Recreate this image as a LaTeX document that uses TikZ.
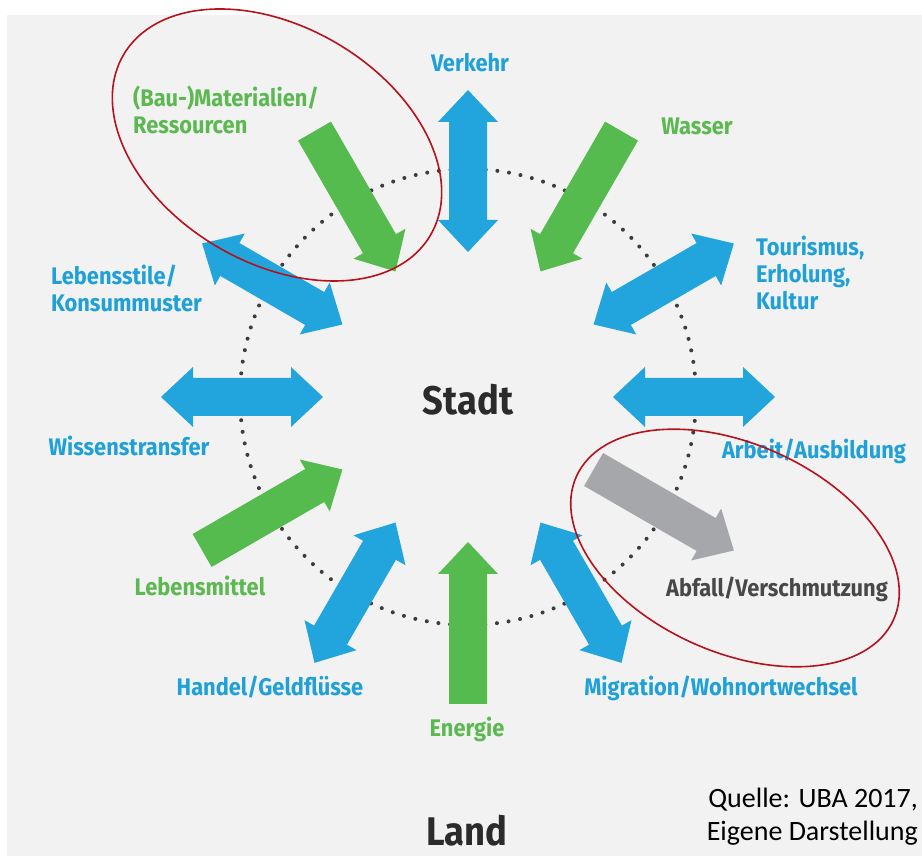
\documentclass[tikz,border=0pt]{standalone}
\usepackage{fontspec}
\setmainfont[FakeStretch=0.91]{Fira Sans}
\newfontfamily\srcfont{Carlito}
\definecolor{ublue}{HTML}{22A4DC}
\definecolor{tblue}{HTML}{1FA0D8}
\definecolor{ugreen}{HTML}{55BB4E}
\definecolor{tgreen}{HTML}{5CB850}
\definecolor{ugray}{HTML}{A6A7AA}
\definecolor{ured}{HTML}{B5121B}
\definecolor{bgc}{HTML}{F2F2F2}
\definecolor{dotc}{HTML}{3C3C3C}
\definecolor{darkt}{HTML}{2B2B2B}
\definecolor{abft}{HTML}{484848}
\begin{document}
\begin{tikzpicture}[x=1pt,y=1pt,
  lab/.style={font=\fontsize{24}{27}\selectfont\bfseries, inner sep=0pt},
  one/.style={lab, text height=17pt, text depth=0pt},
  bl/.style={one, text=tblue},
  gr/.style={one, text=tgreen},
  multi/.style={lab, align=left, anchor=north west},
  big/.style={font=\fontsize{40}{40}\selectfont\bfseries, text=darkt, inner sep=0pt},
  inarr/.pic={\fill[#1] (145,0) -- (177,30) -- (177,19) -- (307,19) -- (307,-19) -- (177,-19) -- (177,-30) -- cycle;},
  outarr/.pic={\fill[#1] (307,0) -- (275,30) -- (275,19) -- (145,19) -- (145,-19) -- (275,-19) -- (275,-30) -- cycle;},
  dblarr/.pic={\fill[#1] (145,0) -- (177,30) -- (177,19) -- (275,19) -- (275,30) -- (307,0) -- (275,-30) -- (275,-19) -- (177,-19) -- (177,-30) -- cycle;},
  ring/.style={draw=ured, line width=1.6pt}
]
\useasboundingbox (0,0) rectangle (922,856);
\fill[bgc] (7,0) rectangle (922,841);
\coordinate (C) at (468,459);
% dotted circle
\draw[dotc, line width=4pt, line cap=round, dash pattern=on 0pt off 11.74pt] (C) circle[radius=228];
% arrows
\pic[rotate=90]   at (C) {dblarr=ublue};
\pic[rotate=60]   at (C) {inarr=ugreen};
\pic[rotate=30]   at (C) {dblarr=ublue};
\pic[rotate=0]    at (C) {dblarr=ublue};
\pic[rotate=-30]  at (C) {outarr=ugray};
\pic[rotate=-60]  at (C) {dblarr=ublue};
\pic[rotate=-90]  at (C) {inarr=ugreen};
\pic[rotate=-120] at (C) {dblarr=ublue};
\pic[rotate=-150] at (C) {inarr=ugreen};
\pic[rotate=180]  at (C) {dblarr=ublue};
\pic[rotate=150]  at (C) {dblarr=ublue};
\pic[rotate=120]  at (C) {inarr=ugreen};
% labels
\node[big] (stadt) at (468,456) {Stadt};
\node[big] (land) at (467,25) {Land};
\node[bl] (verkehr) at (470,793) {Verkehr};
\node[gr] (wasser) at (697,730) {Wasser};
\node[multi, text=tblue] (tour) at (756,620) {Tourismus,\\Erholung,\\Kultur};
\node[bl] (arbeit) at (814,406) {Arbeit/Ausbildung};
\node[one, text=abft] (abfall) at (777,268) {Abfall/Verschmutzung};
\node[bl] (migr) at (721,169) {Migration/Wohnortwechsel};
\node[gr] (energie) at (467,128) {Energie};
\node[bl] (handel) at (270,169) {Handel/Geldflüsse};
\node[gr] (lebensm) at (200,269) {Lebensmittel};
\node[bl] (wissen) at (129,409) {Wissenstransfer};
\node[multi, text=tblue] (lebensst) at (51,591.5) {Lebensstile/\\Konsummuster};
\node[multi, text=tgreen] (mat) at (133,770.5) {(Bau-)Materialien/\\Ressourcen};
\node[anchor=east, align=right, inner sep=0pt, font=\srcfont\fontsize{28}{33}\selectfont] (quelle) at (918,39.5) {Quelle: UBA 2017,\\Eigene Darstellung};
% red ellipses
\draw[ring, rotate around={-30.5:(277,711)}] (277,711) ellipse[x radius=178, y radius=118];
\draw[ring, rotate around={-24.3:(735,308)}] (735,308) ellipse[x radius=174, y radius=104];
\end{tikzpicture}
\end{document}
